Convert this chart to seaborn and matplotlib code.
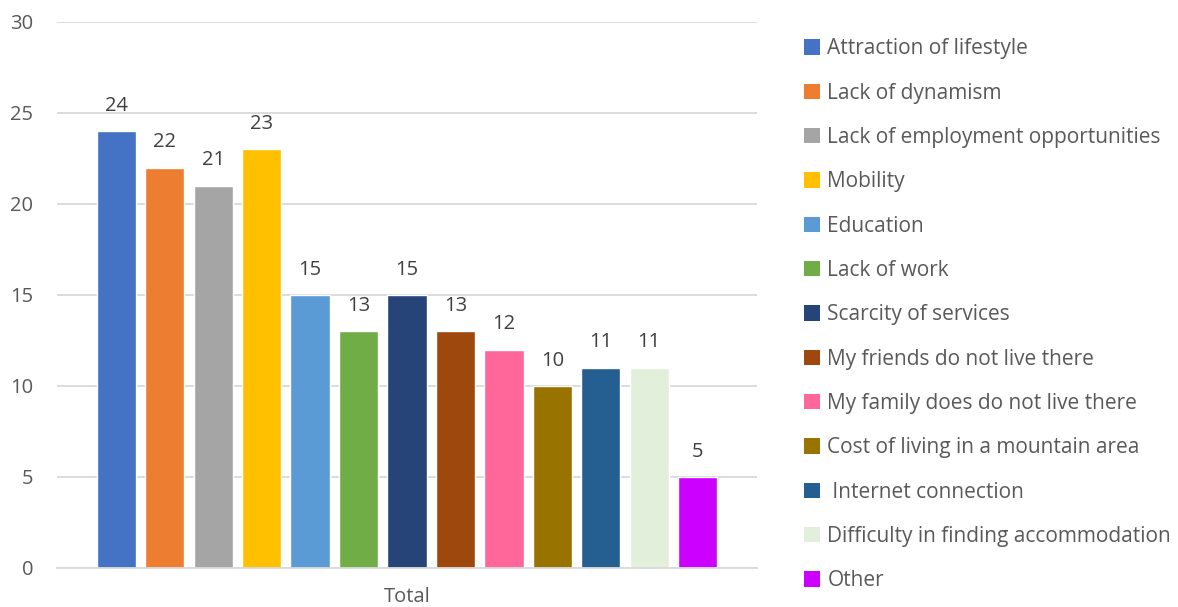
import pandas as pd
import matplotlib.pyplot as plt
import seaborn as sns
from matplotlib.patches import Patch

# data
categories = [
    "Attraction of lifestyle",
    "Lack of dynamism",
    "Lack of employment opportunities",
    "Mobility",
    "Education",
    "Lack of work",
    "Scarcity of services",
    "My friends do not live there",
    "My family does do not live there",
    "Cost of living in a mountain area",
    " Internet connection",
    "Difficulty in finding accommodation",
    "Other",
]
values = [24, 22, 21, 23, 15, 13, 15, 13, 12, 10, 11, 11, 5]
group = ["Total"] * len(categories)
colors = ["#4472C4", "#ED7D31", "#A5A5A5", "#FFC000", "#5B9BD5", "#70AD47",
          "#264478", "#9E480E", "#FF6699", "#997300", "#255E91", "#E2EFDA",
          "#CC00FF"]

df = pd.DataFrame({"group": group, "category": categories, "value": values})

sns.set_style("white")
plt.rcParams["font.family"] = ["Open Sans", "DejaVu Sans"]
txt = "#595959"

fig = plt.figure(figsize=(11.78, 6.07), dpi=100)
ax = fig.add_axes([0.0484, 0.0643, 0.5942, 0.8995])

sns.barplot(data=df, x="group", y="value", hue="category", hue_order=categories,
            palette=colors, width=0.9, gap=0.19, ax=ax, legend=False,
            saturation=1)

for c in ax.containers:
    ax.bar_label(c, padding=11, fontsize=14.5, color="#404040")

ax.set_ylim(0, 30)
ax.set_xlim(-0.5, 0.5)
ax.set_yticks(range(0, 31, 5))
ax.yaxis.grid(True, color="#D9D9D9", linewidth=1.3)
ax.set_axisbelow(True)
for s in ["top", "right", "left"]:
    ax.spines[s].set_visible(False)
ax.spines["bottom"].set_color("#D9D9D9")
ax.spines["bottom"].set_linewidth(1.3)
ax.tick_params(axis="y", length=0, labelsize=14.5, labelcolor=txt, pad=17)
ax.tick_params(axis="x", length=0, labelsize=14.5, labelcolor=txt, pad=14)
ax.set_xlabel("")
ax.set_ylabel("")

handles = [Patch(facecolor=col, edgecolor="none") for col in colors]
fig.legend(handles, categories, loc="upper left", bbox_to_anchor=(0.667, 0.968),
           frameon=False, fontsize=15, labelcolor=txt, handlelength=0.75,
           handleheight=0.75, handletextpad=0.35, labelspacing=1.12)

fig.savefig("out.png", dpi=100)
